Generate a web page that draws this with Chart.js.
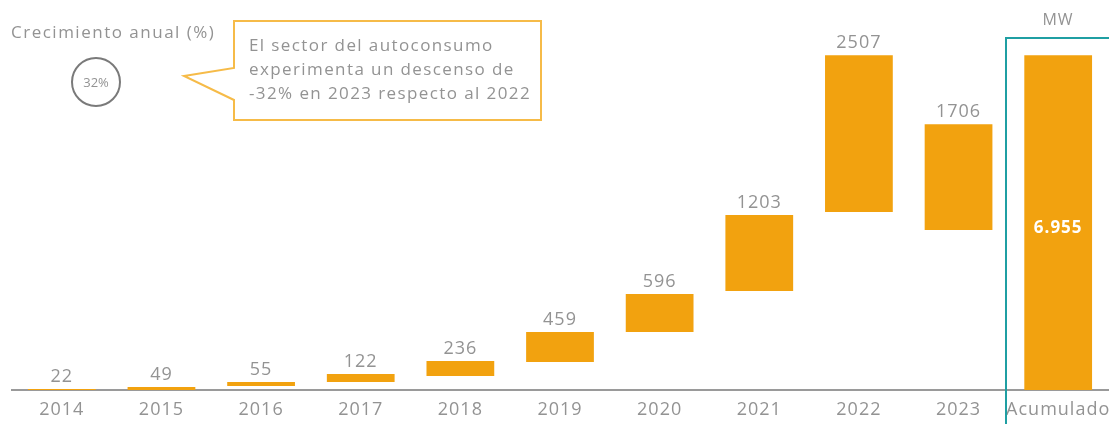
<!DOCTYPE html>
<html>
<head>
<meta charset="utf-8">
<script src="https://cdn.jsdelivr.net/npm/chart.js@4.4.0/dist/chart.umd.min.js"></script>
<style>
  html, body { margin: 0; padding: 0; background: #fff; }
  #wrap { width: 1109px; height: 424px; position: relative; }
</style>
</head>
<body>
<div id="wrap"><canvas id="autoconsumoChart"></canvas></div>
<script>
// Categories and values (MW)
const years = ['2014', '2015', '2016', '2017', '2018', '2019', '2020', '2021', '2022', '2023', 'Acumulado'];
const values = [22, 49, 55, 122, 236, 459, 596, 1203, 2507, 1706, 6955];
// Bar extents as drawn in the picture (MW on the drawing scale)
const barBottom = [0, 0, 83, 166, 290, 581, 1204, 2055, 3695, 3322, 0];
const barTop = [22, 60, 166, 332, 602, 1204, 1993, 3633, 6955, 5522, 6955];

const barColor = '#f2a20f';
const textGray = '#939393';
const fontFamily = '"Open Sans", "Liberation Sans", sans-serif';

// wider tracking, closer to the original typeface
const tracking = {
    id: 'tracking',
    beforeDraw(chart) {
        chart.ctx.letterSpacing = '1px';
    }
};

// value labels above bars, white total inside the last bar
const valueLabels = {
    id: 'valueLabels',
    afterDatasetsDraw(chart) {
        const ctx = chart.ctx;
        const meta = chart.getDatasetMeta(0);
        ctx.save();
        ctx.textAlign = 'center';
        ctx.letterSpacing = '1px';
        meta.data.forEach((bar, i) => {
            if (i === values.length - 1) {
                ctx.fillStyle = '#ffffff';
                ctx.font = 'bold 17px ' + fontFamily;
                ctx.textBaseline = 'middle';
                ctx.fillText(values[i].toLocaleString('de-DE'), bar.x, (bar.y + bar.base) / 2 + 6);
            } else {
                ctx.fillStyle = textGray;
                ctx.font = '18px ' + fontFamily;
                ctx.textBaseline = 'bottom';
                ctx.fillText(String(values[i]), bar.x, Math.min(bar.y, bar.base) - 3);
            }
        });
        ctx.restore();
    }
};

// side notes: growth bubble, callout box, MW frame
const notes = {
    id: 'notes',
    afterDraw(chart) {
        const ctx = chart.ctx;
        ctx.save();

        ctx.fillStyle = textGray;
        ctx.font = '17px ' + fontFamily;
        ctx.letterSpacing = '1.5px';
        ctx.textBaseline = 'middle';
        ctx.textAlign = 'left';
        ctx.fillText('Crecimiento anual (%)', 11, 33);

        ctx.beginPath();
        ctx.arc(96, 82, 24, 0, Math.PI * 2);
        ctx.strokeStyle = '#7a7a7a';
        ctx.lineWidth = 2;
        ctx.stroke();
        ctx.font = '13px ' + fontFamily;
        ctx.letterSpacing = '0px';
        ctx.textAlign = 'center';
        ctx.fillText('32%', 96, 83);

        // callout
        ctx.beginPath();
        ctx.moveTo(234, 21);
        ctx.lineTo(541, 21);
        ctx.lineTo(541, 120);
        ctx.lineTo(234, 120);
        ctx.lineTo(234, 100);
        ctx.lineTo(184, 76);
        ctx.lineTo(234, 68);
        ctx.closePath();
        ctx.fillStyle = '#ffffff';
        ctx.fill();
        ctx.strokeStyle = '#f6bb48';
        ctx.lineWidth = 2;
        ctx.stroke();

        ctx.fillStyle = textGray;
        ctx.font = '17px ' + fontFamily;
        ctx.letterSpacing = '1.4px';
        ctx.textAlign = 'left';
        ['El sector del autoconsumo', 'experimenta un descenso de', '-32% en 2023 respecto al 2022']
            .forEach((line, i) => ctx.fillText(line, 249, 46 + i * 24));

        // MW frame around the cumulative bar
        ctx.textAlign = 'center';
        ctx.font = '16px ' + fontFamily;
        ctx.letterSpacing = '1px';
        ctx.fillText('MW', 1058, 20);
        ctx.beginPath();
        ctx.moveTo(1006, 424);
        ctx.lineTo(1006, 38);
        ctx.lineTo(1109, 38);
        ctx.strokeStyle = '#1f9fa3';
        ctx.lineWidth = 2;
        ctx.stroke();

        ctx.restore();
    }
};

document.addEventListener('DOMContentLoaded', () => {
    const ctxChart = document.getElementById('autoconsumoChart');
    new Chart(ctxChart, {
        type: 'bar',
        data: {
            labels: years,
            datasets: [{
                data: years.map((y, i) => [barBottom[i], barTop[i]]),
                backgroundColor: barColor,
                borderWidth: 0,
                borderSkipped: false,
                categoryPercentage: 1,
                barPercentage: 0.68
            }]
        },
        options: {
            responsive: true,
            maintainAspectRatio: false,
            animation: false,
            layout: { padding: { top: 53, left: 12, right: 1, bottom: 0 } },
            plugins: {
                legend: { display: false },
                tooltip: { enabled: false }
            },
            scales: {
                y: { display: false, min: 0, max: 7000 },
                x: {
                    grid: { display: false, drawTicks: false },
                    border: { display: true, color: '#9a9a9a', width: 2 },
                    ticks: {
                        color: textGray,
                        font: { family: fontFamily, size: 18, lineHeight: 0.8 },
                        padding: 13,
                        autoSkip: false,
                        maxRotation: 0
                    },
                    afterFit(scale) {
                        // fixed axis band so the baseline sits where the original has it
                        scale.height = 34;
                        scale.paddingLeft = 0;
                        scale.paddingRight = 0;
                    }
                }
            }
        },
        plugins: [tracking, valueLabels, notes]
    });
});
</script>
</body>
</html>
